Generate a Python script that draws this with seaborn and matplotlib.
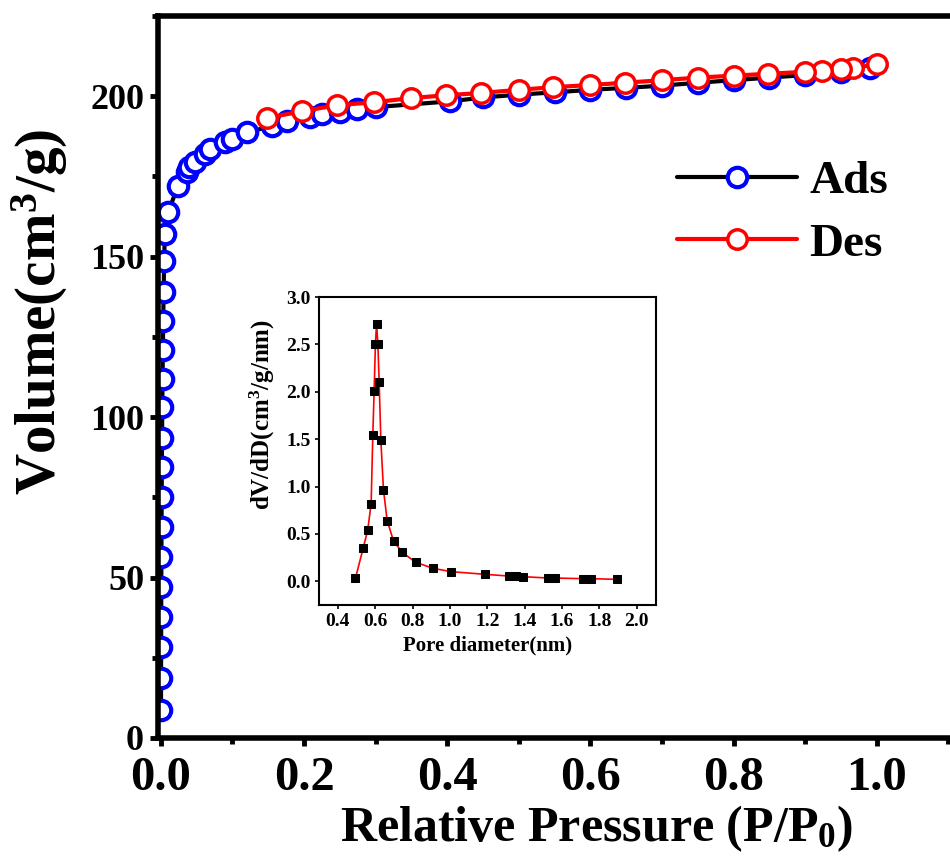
import numpy as np
import pandas as pd
import matplotlib
matplotlib.use("Agg")
import matplotlib.pyplot as plt
import seaborn as sns
from matplotlib.ticker import MultipleLocator

# Adsorption branch (P/P0, cm3/g)
ads_p = [0.0002, 0.0003, 0.0004, 0.0005, 0.0006, 0.0008, 0.0010, 0.0012, 0.0014,
         0.0017, 0.0020, 0.0024, 0.0028, 0.0033, 0.0039, 0.0046, 0.0055, 0.010,
         0.024, 0.036, 0.040, 0.047, 0.061, 0.068, 0.090, 0.100, 0.120, 0.155,
         0.176, 0.208, 0.225, 0.250, 0.274, 0.300, 0.404, 0.450, 0.500, 0.550,
         0.600, 0.650, 0.700, 0.750, 0.800, 0.850, 0.900, 0.950, 0.990]
ads_v = [8.7, 18.7, 28.4, 37.8, 47.1, 56.5, 65.8, 75.2, 84.6, 93.6, 103.0, 112.0,
         121.0, 130.0, 139.0, 148.5, 157.0, 163.8, 172.0, 176.3, 177.8, 179.4,
         182.0, 183.5, 185.6, 186.6, 188.8, 190.6, 192.2, 193.4, 194.4, 195.2,
         196.0, 196.6, 198.4, 199.6, 200.5, 201.2, 202.0, 202.6, 203.3, 204.2,
         205.0, 205.8, 206.6, 207.4, 208.8]

# Desorption branch
des_p = [1.000, 0.966, 0.950, 0.923, 0.900, 0.848, 0.800, 0.750, 0.700, 0.648,
         0.600, 0.547, 0.500, 0.447, 0.398, 0.349, 0.297, 0.246, 0.197, 0.148]
des_v = [210.0, 208.7, 208.4, 207.9, 207.6, 207.0, 206.4, 205.8, 205.0, 204.2,
         203.5, 202.8, 202.0, 201.0, 200.3, 199.4, 198.1, 197.2, 195.3, 193.2]

# Pore size distribution (inset)
pore_d = [0.494, 0.535, 0.560, 0.578, 0.587, 0.594, 0.601, 0.607, 0.614, 0.621,
          0.630, 0.644, 0.664, 0.698, 0.745, 0.817, 0.910, 1.006, 1.188, 1.314,
          1.352, 1.391, 1.524, 1.560, 1.712, 1.756, 1.893]
pore_dv = [0.032, 0.347, 0.544, 0.821, 1.547, 2.007, 2.509, 2.716, 2.509, 2.102,
           1.488, 0.965, 0.639, 0.425, 0.305, 0.200, 0.137, 0.102, 0.074, 0.056,
           0.053, 0.049, 0.035, 0.035, 0.028, 0.028, 0.021]

sns.set_style("ticks", rc={"axes.edgecolor": "black", "text.color": "black",
                           "axes.labelcolor": "black", "xtick.color": "black",
                           "ytick.color": "black"})
plt.rcParams["font.family"] = ["Liberation Serif", "DejaVu Serif"]
plt.rcParams["font.weight"] = "bold"
plt.rcParams["mathtext.fontset"] = "custom"
plt.rcParams["mathtext.rm"] = "Liberation Serif:bold"
plt.rcParams["mathtext.bf"] = "Liberation Serif:bold"
plt.rcParams["mathtext.default"] = "rm"

fig = plt.figure(figsize=(9.5, 8.6), dpi=100)
ax = fig.add_axes([0.1663, 0.1419, 0.8698, 0.8395])

ads = pd.DataFrame({"p": ads_p, "v": ads_v})
des = pd.DataFrame({"p": des_p, "v": des_v})

sns.lineplot(data=ads, x="p", y="v", ax=ax, color="black", linewidth=3,
             marker="o", markersize=14, markerfacecolor="white",
             markeredgecolor="#0000ff", markeredgewidth=3, sort=False,
             estimator=None, label="Ads")
sns.lineplot(data=des, x="p", y="v", ax=ax, color="#ff0000", linewidth=3,
             marker="o", markersize=14, markerfacecolor="white",
             markeredgecolor="#ff0000", markeredgewidth=2.5, sort=False,
             estimator=None, label="Des")

ax.set_xlim(-0.004, 1.15)
ax.set_ylim(0, 225)
ax.xaxis.set_minor_locator(MultipleLocator(0.1))
ax.yaxis.set_major_locator(MultipleLocator(50))
ax.yaxis.set_minor_locator(MultipleLocator(25))
ax.set_xticks(np.arange(0, 1.01, 0.2))
ax.set_xticklabels([f"{t:.1f}" for t in np.arange(0, 1.01, 0.2)])
for s in ax.spines.values():
    s.set_linewidth(4)
ax.tick_params(which="major", direction="out", length=6, width=3.5, pad=4)
ax.tick_params(which="minor", direction="out", length=4, width=3.5)
ax.tick_params(axis="x", labelsize=35, pad=7)
ax.tick_params(axis="y", labelsize=26)
for lab in ax.get_xticklabels() + ax.get_yticklabels():
    lab.set_fontweight("bold")

ax.set_ylabel("Volume(cm$^3$/g)", fontsize=41, fontweight="bold")
ax.yaxis.set_label_coords(-0.107, 0.59)
ax.set_xlabel("Relative Pressure (P/P$_0$)", fontsize=36, fontweight="bold")
ax.xaxis.set_label_coords(0.531, -0.09)

leg = ax.legend(loc="upper left", bbox_to_anchor=(677 / 950, 1 - 160 / 860),
                bbox_transform=fig.transFigure, frameon=False, fontsize=34,
                handlelength=2.55, handletextpad=0.25, labelspacing=0.42,
                borderpad=0, borderaxespad=0)
for t in leg.get_texts():
    t.set_fontweight("bold")

# Inset: pore size distribution
ins = fig.add_axes([0.336, 0.2965, 0.354, 0.358])
sns.lineplot(x=pore_d, y=pore_dv, ax=ins, color="#ff0000", linewidth=1.2,
             marker="s", markersize=5.5, markerfacecolor="black",
             markeredgecolor="black", sort=False, estimator=None)
ins.set_xlim(0.3, 2.1)
ins.set_ylim(-0.25, 3.0)
ins.yaxis.set_major_locator(MultipleLocator(0.5))
ins.set_xticks(np.arange(0.4, 2.01, 0.2))
ins.set_xticklabels([f"{t:.1f}" for t in np.arange(0.4, 2.01, 0.2)])
for s in ins.spines.values():
    s.set_linewidth(1.5)
ins.tick_params(direction="out", length=3, width=1.2, labelsize=14, pad=3)
for lab in ins.get_xticklabels() + ins.get_yticklabels():
    lab.set_fontweight("bold")
ins.set_xlabel("Pore diameter(nm)", fontsize=15, fontweight="bold")
ins.set_ylabel("dV/dD(cm$^3$/g/nm)", fontsize=18, fontweight="bold")
ins.yaxis.set_label_coords(-0.125, 0.62)

fig.savefig("out.png", dpi=100)
